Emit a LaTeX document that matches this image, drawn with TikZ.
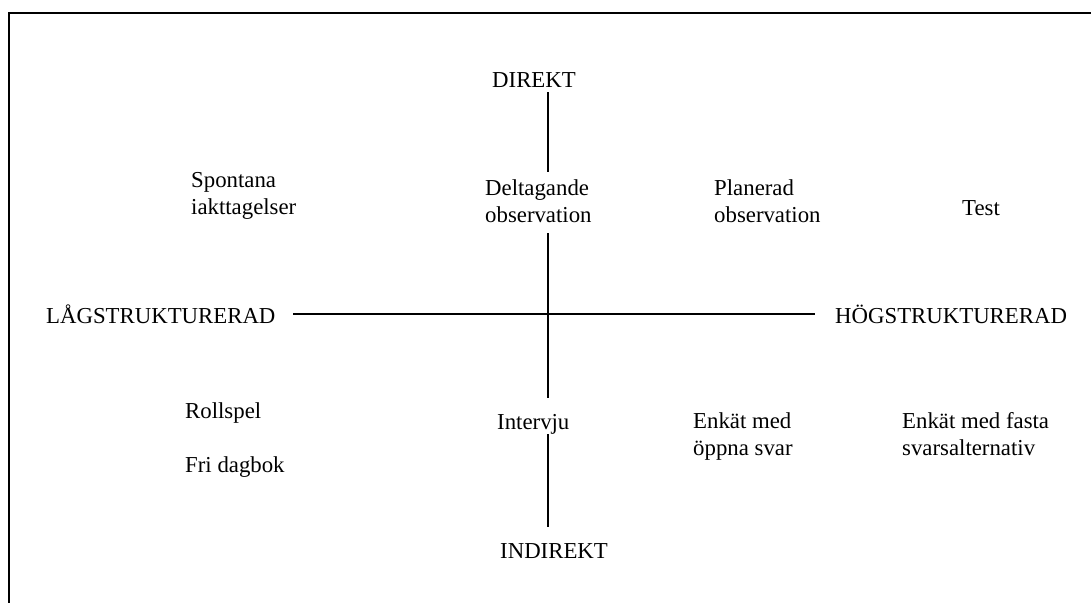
\documentclass[tikz,border=0pt]{standalone}
\usepackage{fontspec}
\setmainfont{Liberation Serif}
\begin{document}
\begin{tikzpicture}[x=1pt,y=-1pt,
  lbl/.style={anchor=base west,inner sep=0pt,align=left,
    font=\fontsize{22.8}{27}\selectfont},
  axis/.style={line width=1.6pt},
  frame/.style={line width=2.2pt}]
\useasboundingbox (0,0) rectangle (1091,602);
% open frame: top and left edges only
\draw[frame] (1092,13) -- (9,13) -- (9,603);

% axis end labels
\node[lbl] (dir)   at (492,87)  {DIREKT};
\node[lbl] (indir) at (500,558) {INDIREKT};
\node[lbl] (lag)   at (46,323)  {LÅGSTRUKTURERAD};
\node[lbl] (hog)   at (835,323) {HÖGSTRUKTURERAD};

% methods (two-line labels are anchored on their last baseline)
\node[lbl] (spont) at (191,214) {Spontana\\iakttagelser};
\node[lbl] (delt)  at (485,222) {Deltagande\\observation};
\node[lbl] (plan)  at (714,222) {Planerad\\observation};
\node[lbl] (test)  at (962,215) {Test};
\node[lbl] (roll)  at (185,418) {Rollspel};
\node[lbl] (fri)   at (185,472) {Fri dagbok};
\node[lbl] (intv)  at (497,429) {Intervju};
\node[lbl] (enk1)  at (693,455) {Enkät med\\öppna svar};
\node[lbl] (enk2)  at (902,455) {Enkät med fasta\\svarsalternativ};

% axis segments, interrupted by the labels on the vertical axis
\coordinate (v0) at (548,92);
\coordinate (v1) at (548,172);
\coordinate (v2) at (548,233);
\coordinate (v3) at (548,398);
\coordinate (v4) at (548,434);
\coordinate (v5) at (548,527);
\coordinate (h0) at (293,314);
\coordinate (h1) at (815,314);
\draw[axis] (v0) -- (v1);
\draw[axis] (v2) -- (v3);
\draw[axis] (v4) -- (v5);
\draw[axis] (h0) -- (h1);
\end{tikzpicture}
\end{document}
